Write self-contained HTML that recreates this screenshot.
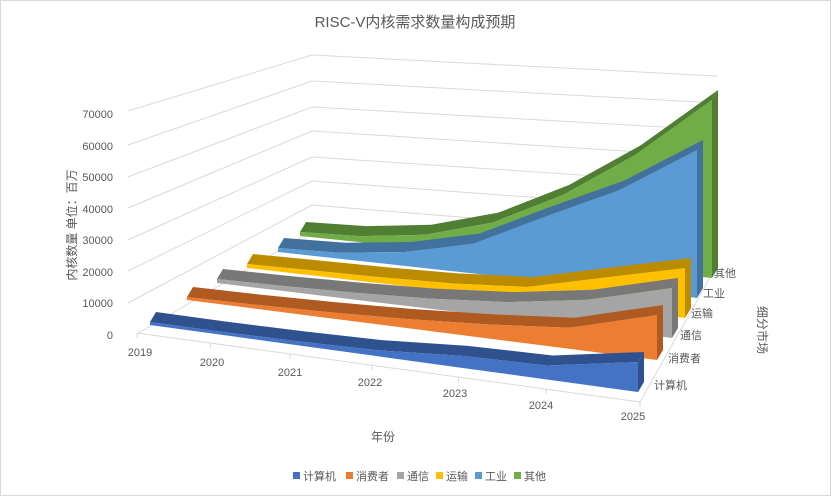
<!DOCTYPE html>
<html><head><meta charset="utf-8"><style>
body{margin:0;background:#fff}
svg{display:block;font-family:"Liberation Sans","Noto Sans CJK SC",sans-serif}
</style></head><body>
<svg id="s" width="831" height="496" viewBox="0 0 831 496" xmlns="http://www.w3.org/2000/svg">
<rect x="0.5" y="0.5" width="830" height="495" fill="#fff" stroke="#d9d9d9"/>
<text x="415" y="27" text-anchor="middle" font-size="15" fill="#595959">RISC-V内核需求数量构成预期</text>
<g id="grid" stroke="#d9d9d9" stroke-width="1" fill="none"></g>
<g id="ser"></g>
<g font-size="11" fill="#595959" text-anchor="end">
<text x="113" y="118">70000</text><text x="113" y="150">60000</text><text x="113" y="181">50000</text>
<text x="113" y="213">40000</text><text x="113" y="244">30000</text><text x="113" y="276">20000</text>
<text x="113" y="307">10000</text><text x="113" y="339">0</text>
</g>
<g font-size="11" fill="#595959" text-anchor="middle">
<text x="140" y="356">2019</text><text x="212" y="366">2020</text><text x="290" y="376">2021</text>
<text x="370" y="386">2022</text><text x="455" y="397">2023</text><text x="541" y="409">2024</text><text x="633" y="420">2025</text>
</g>
<g font-size="11" fill="#595959">
<text x="654" y="389">计算机</text><text x="668" y="362">消费者</text><text x="680" y="339">通信</text>
<text x="691" y="317">运输</text><text x="703" y="297">工业</text><text x="714" y="277">其他</text>
</g>
<text x="383" y="441" font-size="12" fill="#595959" text-anchor="middle">年份</text>
<text transform="translate(76,225) rotate(-90)" font-size="12" fill="#595959" text-anchor="middle">内核数量 单位：百万</text>
<text transform="translate(758,330) rotate(90)" font-size="12" fill="#595959" text-anchor="middle">细分市场</text>
<g font-size="11" fill="#595959">
<rect x="293" y="472" width="7" height="7" fill="#4472C4"/><text x="303" y="480">计算机</text>
<rect x="346" y="472" width="7" height="7" fill="#ED7D31"/><text x="356" y="480">消费者</text>
<rect x="397" y="472" width="7" height="7" fill="#A5A5A5"/><text x="407" y="480">通信</text>
<rect x="436" y="472" width="7" height="7" fill="#FFC000"/><text x="446" y="480">运输</text>
<rect x="475" y="472" width="7" height="7" fill="#5B9BD5"/><text x="485" y="480">工业</text>
<rect x="514" y="472" width="7" height="7" fill="#70AD47"/><text x="524" y="480">其他</text>
</g>
</svg>
<script>
var NS="http://www.w3.org/2000/svg";
function el(p,t,a){var e=document.createElementNS(NS,t);for(var k in a)e.setAttribute(k,a[k]);p.appendChild(e);return e;}
var g=document.getElementById('grid');
var L=[111,145,177,208,240,271,303,334],B=[55,81,107,131,157,181,205,231],R=[76,103,130,157,184,211,238,265];
for(var i=0;i<8;i++){el(g,'polyline',{points:(i==7?137:128)+','+L[i]+' 312,'+B[i]+' 717,'+R[i]});}
el(g,'polyline',{points:'137,333 640,402 717,265'});
var f=[0,.146,.304,.467,.639,.813,1];
for(var k=0;k<7;k++){var x=137+f[k]*503,y=333+f[k]*69;el(g,'line',{x1:x,y1:y,x2:x,y2:y+5});}
var S=[
['#70AD47','#507E32',300,236,712,278,[4,6,14,33,68,115,178]],
['#5B9BD5','#41719C',278,252,697,298,[4,6,14,30,65,99,148]],
['#FFC000','#BC8C00',247,268,685,318,[4,5,6,8,13,31,50]],
['#A5A5A5','#787878',217,283,672,338,[4,5,7,10,16,28,50]],
['#ED7D31','#AE5A21',187,300,657,360,[3,4,6,9,14,21,45]],
['#4472C4','#2F528F',150,325,638,392,[3,3,4,6,12,14,30]]];
var sg=document.getElementById('ser'),dx=6,dy=-10;
S.forEach(function(s){
 var base=[],top=[];
 for(var k=0;k<7;k++){var x=s[2]+f[k]*(s[4]-s[2]),y=s[3]+f[k]*(s[5]-s[3]);base.push([x,y]);top.push([x,y-s[6][k]]);}
 var tf=top.map(function(p){return p.join(',')}).join(' ')+' '+top.slice().reverse().map(function(p){return (p[0]+dx)+','+(p[1]+dy)}).join(' ');
 el(sg,'polygon',{points:tf,fill:s[1]});
 var b=base[6],t=top[6];
 el(sg,'polygon',{points:b.join(',')+' '+t.join(',')+' '+(t[0]+dx)+','+(t[1]+dy)+' '+(b[0]+dx)+','+(b[1]+dy),fill:s[1]});
 var ff=base.map(function(p){return p.join(',')}).join(' ')+' '+top.slice().reverse().map(function(p){return p.join(',')}).join(' ');
 el(sg,'polygon',{points:ff,fill:s[0]});
});
</script>
</body></html>
